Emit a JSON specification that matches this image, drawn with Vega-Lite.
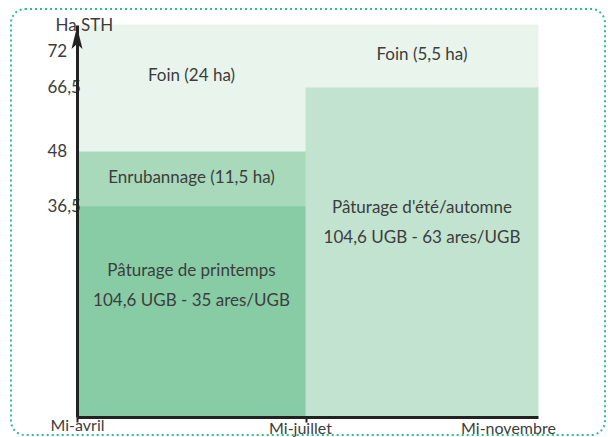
{
  "$schema": "https://vega.github.io/schema/vega-lite/v6.json",
  "width": 594,
  "height": 426,
  "autosize": "none",
  "padding": {"left": 11, "top": 9, "right": 3, "bottom": 2},
  "background": "white",
  "config": {
    "font": "Lato",
    "view": {"stroke": "#2dbe8a", "strokeWidth": 2, "strokeDash": [2, 3], "cornerRadius": 14}
  },
  "datasets": {
    "zones": [
      {"debut": 0, "fin": 1, "bas": 0, "haut": 36.5, "usage": "Pâturage de printemps"},
      {"debut": 0, "fin": 1, "bas": 36.5, "haut": 48, "usage": "Enrubannage"},
      {"debut": 0, "fin": 1, "bas": 48, "haut": 72, "usage": "Foin (printemps)"},
      {"debut": 1, "fin": 2, "bas": 0, "haut": 66.5, "usage": "Pâturage d'été/automne"},
      {"debut": 1, "fin": 2, "bas": 66.5, "haut": 72, "usage": "Foin (été)"}
    ],
    "etiquettes": [
      {"x": 0.5, "y": 67.5, "texte": ["Foin (24 ha)"]},
      {"x": 0.5, "y": 42.3, "texte": ["Enrubannage (11,5 ha)"]},
      {"x": 0.5, "y": 25.3, "texte": ["Pâturage de printemps", "104,6 UGB - 35 ares/UGB"]},
      {"x": 1.5, "y": 69.3, "texte": ["Foin (5,5 ha)"]},
      {"x": 1.5, "y": 36.2, "texte": ["Pâturage d'été/automne", "104,6 UGB - 63 ares/UGB"]}
    ]
  },
  "layer": [
    {
      "data": {"name": "zones"},
      "mark": {"type": "rect", "strokeWidth": 1},
      "encoding": {
        "x": {
          "field": "debut", "type": "quantitative",
          "scale": {"domain": [0, 1, 2], "range": [66, 295, 527], "nice": false, "zero": false},
          "axis": {
            "values": [0, 1, 2],
            "title": null,
            "grid": false,
            "offset": -18,
            "zindex": 1,
            "domainColor": "#222222",
            "domainWidth": 3,
            "tickColor": {"condition": {"test": "datum.value == 2", "value": "transparent"}, "value": "#222222"},
            "tickSize": 5,
            "tickWidth": 2,
            "labelExpr": "datum.value == 0 ? 'Mi-avril' : datum.value == 1 ? 'Mi-juillet' : 'Mi-novembre'",
            "labelFontSize": 16,
            "labelColor": "#3d3d3d",
            "labelPadding": {"condition": {"test": "datum.value == 0", "value": -5}, "value": -2},
            "labelOffset": {"condition": [{"test": "datum.value == 2", "value": -30}, {"test": "datum.value == 1", "value": -6}], "value": 0},
            "labelFlush": false,
            "labelOverlap": false
          }
        },
        "x2": {"field": "fin"},
        "y": {
          "field": "bas", "type": "quantitative",
          "scale": {"domain": [0, 36.5, 48, 66.5, 72], "range": [408, 197, 142, 78, 16], "nice": false, "zero": false},
          "axis": {
            "values": [36.5, 48, 66.5, 72],
            "grid": false,
            "offset": -66,
            "zindex": 1,
            "domainColor": "#222222",
            "domainWidth": 3,
            "ticks": false,
            "labelAlign": "left",
            "labelPadding": 30,
            "labelFontSize": 17,
            "labelColor": "#3d3d3d",
            "labelBaseline": "middle",
            "labelOffset": {"condition": {"test": "datum.value == 72", "value": 26}, "value": 0},
            "labelExpr": "datum.value == 36.5 ? '36,5' : datum.value == 66.5 ? '66,5' : datum.label",
            "labelOverlap": false,
            "labelFlush": false,
            "title": "Ha STH",
            "titleAngle": 0,
            "titleX": -22,
            "titleY": 16,
            "titleAlign": "left",
            "titleBaseline": "middle",
            "titleFontSize": 17,
            "titleFontWeight": "normal",
            "titleColor": "#3d3d3d"
          }
        },
        "y2": {"field": "haut"},
        "color": {
          "field": "usage", "type": "nominal", "legend": null,
          "scale": {
            "domain": ["Pâturage de printemps", "Enrubannage", "Foin (printemps)", "Pâturage d'été/automne", "Foin (été)"],
            "range": ["#88cca6", "#a8d9bb", "#e8f4ec", "#c2e3d0", "#e8f4ec"]
          }
        },
        "stroke": {
          "field": "usage", "type": "nominal", "legend": null,
          "scale": {
            "domain": ["Pâturage de printemps", "Enrubannage", "Foin (printemps)", "Pâturage d'été/automne", "Foin (été)"],
            "range": ["#74c596", "#a8d9bb", "#e8f4ec", "#c2e3d0", "#e8f4ec"]
          }
        }
      }
    },
    {
      "data": {"name": "etiquettes"},
      "mark": {"type": "text", "fontSize": 17, "color": "#3d3d3d", "lineHeight": 30, "align": "center", "baseline": "middle"},
      "encoding": {
        "x": {"field": "x", "type": "quantitative"},
        "y": {"field": "y", "type": "quantitative"},
        "text": {"field": "texte"}
      }
    },
    {
      "data": {"values": [{}]},
      "mark": {"type": "point", "shape": "M0,-1L0.5,1L0,0.55L-0.5,1Z", "filled": true, "color": "#222222", "opacity": 1, "size": 484, "yOffset": 13},
      "encoding": {
        "x": {"datum": 0, "type": "quantitative"},
        "y": {"datum": 72, "type": "quantitative"}
      }
    }
  ]
}
